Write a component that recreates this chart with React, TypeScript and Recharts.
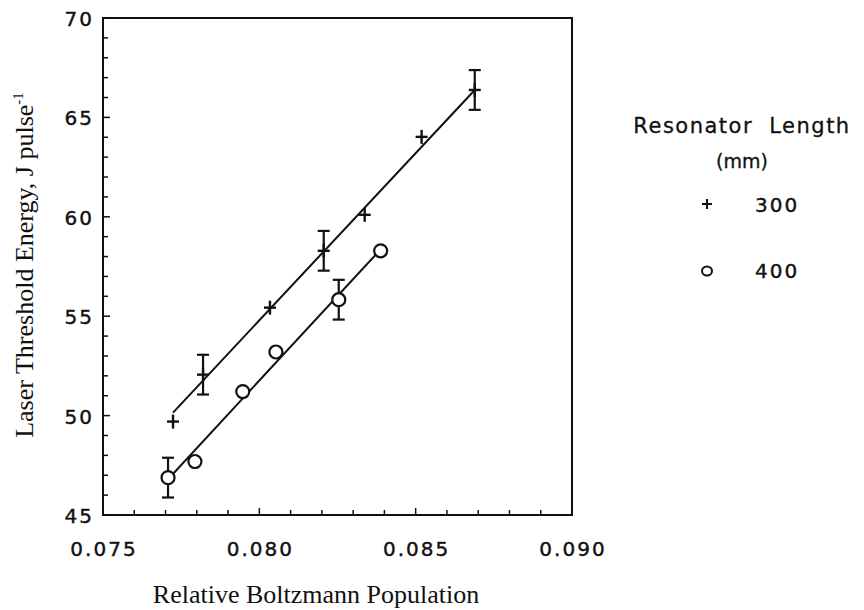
import {
  ComposedChart,
  Scatter,
  Line,
  XAxis,
  YAxis,
  ErrorBar,
  ReferenceArea,
} from "recharts";

const W = 864;
const H = 610;
const INK = "#111";
const SANS = "'DejaVu Sans', sans-serif";
const SERIF = "'Liberation Serif', 'Times New Roman', serif";

// resonator length 300 mm (+)
const x300 = [0.07724, 0.0782, 0.08034, 0.08206, 0.08337, 0.08519, 0.08689];
const y300 = [49.7, 52.06, 55.43, 58.29, 60.1, 64.02, 66.38];
const err300 = [0, 1.0, 0, 1.0, 0, 0, 1.0];

// resonator length 400 mm (o)
const x400 = [0.07708, 0.07794, 0.07947, 0.08053, 0.08254, 0.08388];
const y400 = [46.88, 47.69, 51.21, 53.2, 55.83, 58.29];
const err400 = [1.0, 0, 0, 0, 1.0, 0];

// fitted straight lines (end points)
const fitX300 = [0.07724, 0.08689];
const fitY300 = [50.15, 66.38];
const fitX400 = [0.07708, 0.08375];
const fitY400 = [46.8, 58.14];

const xTicks = [
  0.075, 0.076, 0.077, 0.078, 0.079, 0.08, 0.081, 0.082, 0.083, 0.084, 0.085,
  0.086, 0.087, 0.088, 0.089, 0.09,
];
const yTicks = [
  45, 46, 47, 48, 49, 50, 51, 52, 53, 54, 55, 56, 57, 58, 59, 60, 61, 62, 63,
  64, 65, 66, 67, 68, 69, 70,
];

const pts300 = x300.map((x, i) => ({ x, y: y300[i], err: err300[i] || undefined }));
const pts400 = x400.map((x, i) => ({ x, y: y400[i], err: err400[i] || undefined }));
const fit300 = fitX300.map((x, i) => ({ x, y: fitY300[i] }));
const fit400 = fitX400.map((x, i) => ({ x, y: fitY400[i] }));

const PLOT_BOTTOM = 515;
const PLOT_LEFT = 103;

const tickFont = {
  fontFamily: SANS,
  fontSize: 20,
  letterSpacing: 2,
  stroke: INK,
  strokeWidth: 0.4,
};

function XTick(props: any) {
  const { x, payload } = props;
  const y = PLOT_BOTTOM;
  const major = Math.round(payload.value * 1000) % 5 === 0;
  return (
    <g>
      <line x1={x} x2={x} y1={y} y2={y - (major ? 7 : 5)} stroke={INK} strokeWidth={1.5} />
      {major && (
        <text x={x + 1} y={y + 41} textAnchor="middle" fill={INK} style={tickFont}>
          {payload.value.toFixed(3)}
        </text>
      )}
    </g>
  );
}

function YTick(props: any) {
  const { y, payload } = props;
  const x = PLOT_LEFT;
  const major = payload.value % 5 === 0;
  return (
    <g>
      <line x1={x} x2={x + (major ? 7 : 5)} y1={y} y2={y} stroke={INK} strokeWidth={1.5} />
      {major && (
        <text x={x - 9} y={y + 8} textAnchor="end" fill={INK} style={tickFont}>
          {payload.value}
        </text>
      )}
    </g>
  );
}

function Plus(props: any) {
  const { cx, cy } = props;
  return (
    <g stroke={INK} strokeWidth={2.4}>
      <line x1={cx - 6} x2={cx + 6} y1={cy} y2={cy} />
      <line x1={cx} x2={cx} y1={cy - 7} y2={cy + 7} />
    </g>
  );
}

function Ring(props: any) {
  const { cx, cy } = props;
  return <circle cx={cx} cy={cy} r={6.5} fill="#fff" stroke={INK} strokeWidth={2.2} />;
}

export default function App() {
  return (
    <div
      style={{
        position: "absolute",
        left: 0,
        top: 0,
        width: W,
        height: H,
        background: "#fff",
      }}
    >
      <ComposedChart
        width={W}
        height={H}
        margin={{ top: 18, right: 292, bottom: 35, left: 43 }}
      >
        <XAxis
          dataKey="x"
          type="number"
          domain={[0.075, 0.09]}
          ticks={xTicks}
          interval={0}
          allowDataOverflow
          height={60}
          axisLine={false}
          tickLine={false}
          tick={(p: any) => <XTick {...p} />}
        />
        <YAxis
          dataKey="y"
          type="number"
          domain={[45, 70]}
          ticks={yTicks}
          interval={0}
          allowDataOverflow
          width={60}
          axisLine={false}
          tickLine={false}
          tick={(p: any) => <YTick {...p} />}
        />
        <ReferenceArea
          x1={0.075}
          x2={0.09}
          y1={45}
          y2={70}
          fill="none"
          fillOpacity={0}
          stroke={INK}
          strokeWidth={2}
        />
        <Line
          data={fit300}
          dataKey="y"
          type="linear"
          stroke={INK}
          strokeWidth={2}
          dot={false}
          isAnimationActive={false}
        />
        <Line
          data={fit400}
          dataKey="y"
          type="linear"
          stroke={INK}
          strokeWidth={2}
          dot={false}
          isAnimationActive={false}
        />
        <Scatter data={pts300} dataKey="y" shape={(p: any) => <Plus {...p} />} isAnimationActive={false}>
          <ErrorBar dataKey="err" direction="y" width={6} stroke={INK} strokeWidth={2.2} />
        </Scatter>
        <Scatter data={pts400} dataKey="y" shape={(p: any) => <Ring {...p} />} isAnimationActive={false}>
          <ErrorBar dataKey="err" direction="y" width={6} stroke={INK} strokeWidth={2.2} />
        </Scatter>
      </ComposedChart>

      {/* titles and legend */}
      <svg
        width={W}
        height={H}
        style={{ position: "absolute", left: 0, top: 0, pointerEvents: "none" }}
      >
        <text
          x={316}
          y={603}
          textAnchor="middle"
          fill={INK}
          style={{ fontFamily: SERIF, fontSize: 26 }}
        >
          Relative Boltzmann Population
        </text>
        <text
          transform="translate(33, 265) rotate(-90)"
          textAnchor="middle"
          fill={INK}
          style={{ fontFamily: SERIF, fontSize: 26 }}
        >
          Laser Threshold Energy, J pulse
          <tspan dy={-10} style={{ fontSize: 15 }}>
            -1
          </tspan>
        </text>

        <text
          x={742}
          y={133}
          textAnchor="middle"
          fill={INK}
          style={{ fontFamily: SANS, fontSize: 21, letterSpacing: 1.5, wordSpacing: 8, stroke: INK, strokeWidth: 0.3 }}
        >
          Resonator Length
        </text>
        <text
          x={742}
          y={168}
          textAnchor="middle"
          fill={INK}
          style={{ fontFamily: SANS, fontSize: 19, letterSpacing: 0, stroke: INK, strokeWidth: 0.3 }}
        >
          (mm)
        </text>
        <g stroke={INK} strokeWidth={2}>
          <line x1={702} x2={712} y1={204} y2={204} />
          <line x1={707} x2={707} y1={199} y2={209} />
        </g>
        <text x={755} y={212} fill={INK} style={tickFont}>
          300
        </text>
        <ellipse cx={707} cy={271} rx={5} ry={4.5} fill="none" stroke={INK} strokeWidth={2} />
        <text x={755} y={278} fill={INK} style={tickFont}>
          400
        </text>
      </svg>
    </div>
  );
}
